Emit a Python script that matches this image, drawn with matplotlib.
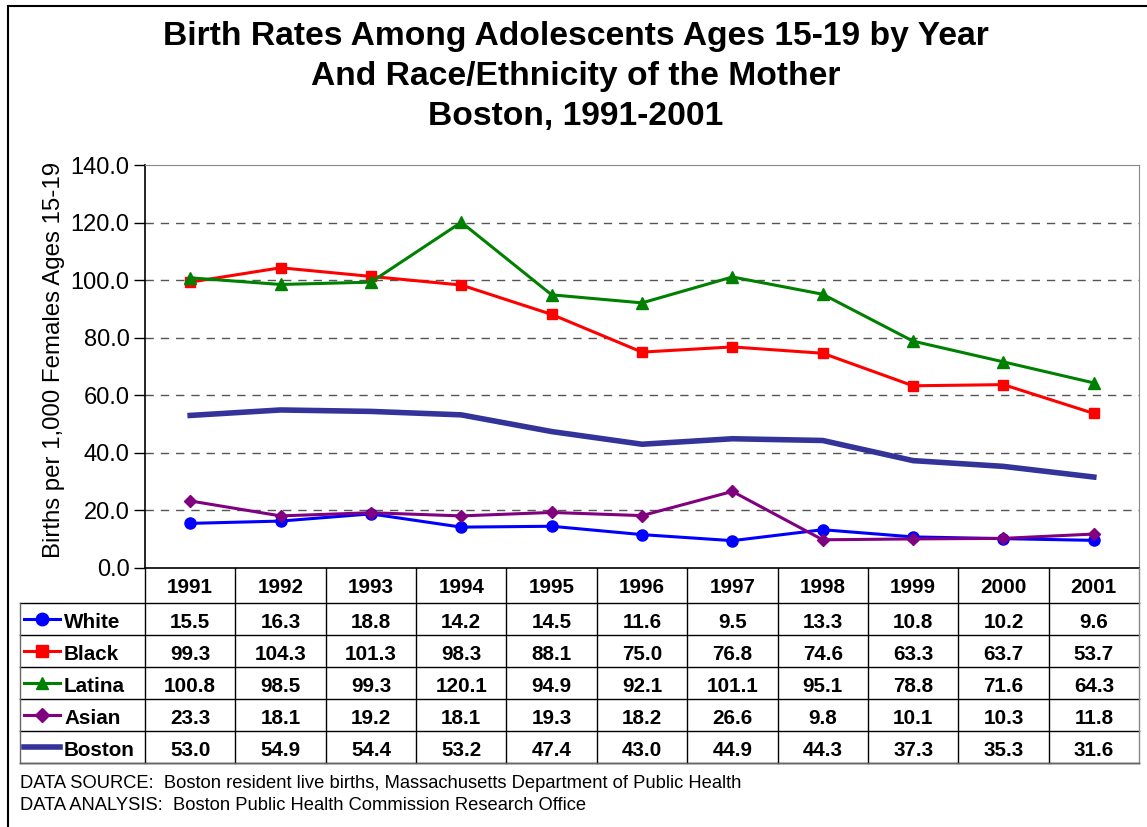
import numpy as np
import matplotlib
matplotlib.use("Agg")
import matplotlib.pyplot as plt
from matplotlib.lines import Line2D
from matplotlib.patches import Rectangle

plt.rcParams['font.family'] = ['Liberation Sans', 'DejaVu Sans']

years = [1991, 1992, 1993, 1994, 1995, 1996, 1997, 1998, 1999, 2000, 2001]
white = [15.5, 16.3, 18.8, 14.2, 14.5, 11.6, 9.5, 13.3, 10.8, 10.2, 9.6]
black = [99.3, 104.3, 101.3, 98.3, 88.1, 75.0, 76.8, 74.6, 63.3, 63.7, 53.7]
latina = [100.8, 98.5, 99.3, 120.1, 94.9, 92.1, 101.1, 95.1, 78.8, 71.6, 64.3]
asian = [23.3, 18.1, 19.2, 18.1, 19.3, 18.2, 26.6, 9.8, 10.1, 10.3, 11.8]
boston = [53.0, 54.9, 54.4, 53.2, 47.4, 43.0, 44.9, 44.3, 37.3, 35.3, 31.6]

series_names = ["White", "Black", "Latina", "Asian", "Boston"]
series_values = [white, black, latina, asian, boston]

title_lines = ["Birth Rates Among Adolescents Ages 15-19 by Year",
               "And Race/Ethnicity of the Mother",
               "Boston, 1991-2001"]
y_label = "Births per 1,000 Females Ages 15-19"
footer_lines = ["DATA SOURCE:  Boston resident live births, Massachusetts Department of Public Health",
                "DATA ANALYSIS:  Boston Public Health Commission Research Office"]

styles = {
    "White": dict(color="#0000FF", marker="o", markersize=8, lw=2.2),
    "Black": dict(color="#FF0000", marker="s", markersize=7, lw=2.2),
    "Latina": dict(color="#008000", marker="^", markersize=8, lw=2.2),
    "Asian": dict(color="#800080", marker="D", markersize=6.5, lw=2.2),
    "Boston": dict(color="#333399", marker=None, markersize=0, lw=4),
}

W, H = 1147, 827
fig = plt.figure(figsize=(W / 100, H / 100), dpi=100)

def fx(px):
    return px / W

def fy(py):
    return 1 - py / H

# outer frame
fig.patches.append(Rectangle((fx(8), -0.05), 1.1, fy(6) + 0.05, transform=fig.transFigure,
                             fill=False, edgecolor="black", lw=1.5, clip_on=False))

# title
for i, line in enumerate(title_lines):
    fig.text(fx(576), fy(37 + 40 * i), line, ha="center", va="center",
             fontsize=24.2, fontweight="bold")

# main plot
plot_l, plot_r, plot_t, plot_b = 145, 1139, 165, 568
ax = fig.add_axes([fx(plot_l), fy(plot_b), fx(plot_r - plot_l), fy(plot_t) - fy(plot_b)])
x = np.arange(len(years))
for name, vals in zip(series_names, series_values):
    st = styles[name]
    ax.plot(x, vals, color=st["color"], marker=st["marker"], markersize=st["markersize"],
            lw=st["lw"], zorder=3)

ax.set_xlim(-0.5, len(years) - 0.5)
ax.set_ylim(0, 140)
ax.set_yticks(np.arange(0, 141, 20))
ax.set_yticklabels([f"{v:.1f}" for v in np.arange(0, 141, 20)], fontsize=17)
ax.set_xticks([])
ax.tick_params(axis="y", direction="out", length=8, width=1, pad=3)
for yv in range(20, 140, 20):
    ax.axhline(yv, color="#555555", lw=1, ls=(0, (6, 5)), zorder=1)
ax.spines["top"].set_color("#888888")
ax.spines["right"].set_color("#888888")
ax.spines["left"].set_color("black")
ax.spines["bottom"].set_color("black")
ax.spines["left"].set_linewidth(1.2)
ax.spines["bottom"].set_linewidth(1.2)

fig.text(fx(54), fy(360), y_label, rotation=90, ha="center", va="center", fontsize=17.3)

# data table under the plot
col_w = (plot_r - plot_l) / len(years)
tab_l, tab_b = 20, 763
header_h, row_h = 35, 32
xl = -0.5 - (plot_l - tab_l) / col_w
tab = fig.add_axes([fx(tab_l), fy(tab_b), fx(plot_r - tab_l), fy(plot_b) - fy(tab_b)])
tab.set_xlim(xl, len(years) - 0.5)
y_bot = -(header_h + row_h * len(series_names)) / row_h
y_head = -header_h / row_h
tab.set_ylim(y_bot, 0)
tab.axis("off")

line_kw = dict(color="black", lw=1)
for k in range(len(series_names) + 1):
    yk = y_head - k
    tab.plot([xl, len(years) - 0.5], [yk, yk], clip_on=False, **line_kw)
for j in range(len(years) + 1):
    xj = -0.5 + j
    tab.plot([xj, xj], [0, y_bot], clip_on=False,
             color="#888888" if j == len(years) else "black", lw=1)
tab.plot([xl, xl], [y_head, y_bot], clip_on=False, color="#666666", lw=1)
tab.plot([xl, len(years) - 0.5], [y_bot, y_bot], clip_on=False, color="#666666", lw=1)

for j, yr in enumerate(years):
    tab.text(j, y_head / 2 - 0.05, str(yr), ha="center", va="center", fontsize=14.9, fontweight="bold")

for k, (name, vals) in enumerate(zip(series_names, series_values)):
    yc = y_head - k - 0.5
    st = styles[name]
    x0 = xl + 4 / col_w
    x1 = xl + 40 / col_w
    tab.add_line(Line2D([x0, x1], [yc, yc], color=st["color"], lw=st["lw"]))
    if st["marker"]:
        tab.plot([(x0 + x1) / 2], [yc], marker=st["marker"], color=st["color"],
                 markersize=st["markersize"] + 1)
    ty = yc - 0.1
    tab.text(xl + 44 / col_w, ty, name, ha="left", va="center", fontsize=14.9, fontweight="bold")
    for j, v in enumerate(vals):
        tab.text(j, ty, f"{v:.1f}", ha="center", va="center", fontsize=14.9, fontweight="bold")

# footer
for i, line in enumerate(footer_lines):
    fig.text(fx(20), fy(783 + 22 * i), line, ha="left", va="center", fontsize=13.2)

fig.savefig("out.png", dpi=100)
